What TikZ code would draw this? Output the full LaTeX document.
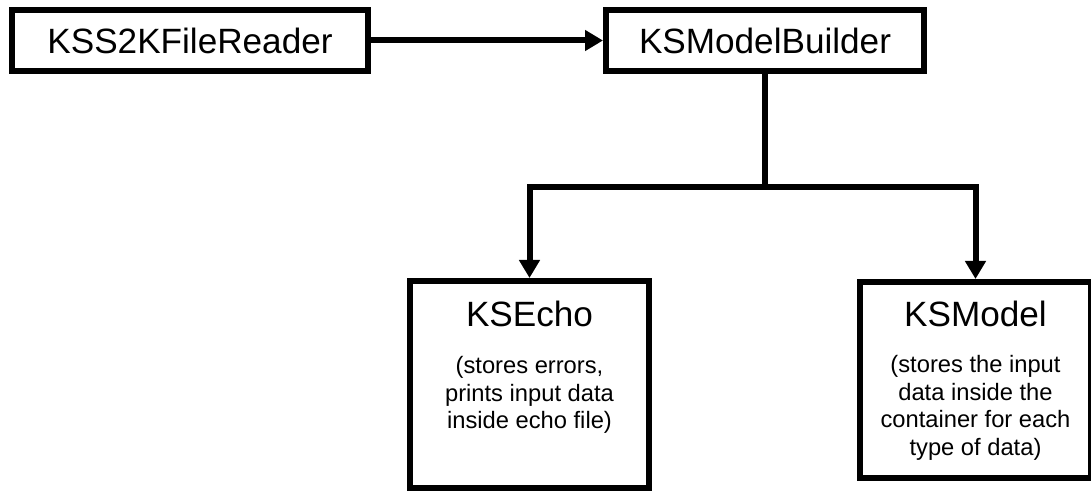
\documentclass[tikz,border=0pt]{standalone}
\usepackage{fontspec}
\setmainfont{Liberation Sans}
\usepackage{tikz}
\usetikzlibrary{arrows.meta}
\tikzset{%
  >={Triangle[width=4mm,length=3.6mm]},
            base/.style = {rectangle, draw=black, line width=1.2mm,
                           text centered, font=\fontsize{20}{24}\selectfont},
  box0/.style = {base, minimum height=1.22cm, inner sep=0pt},
  box1/.style = {base, inner sep=0pt},
  link/.style = {line width=1.2mm},
}
\newcommand{\subtxt}{\fontsize{13.5}{15.6}\selectfont}

\begin{document}
\begin{tikzpicture}
  \useasboundingbox (0,0) rectangle (21.82,-9.82);

  \node (onReader)  [box0, minimum width=7.12cm] at (3.80,-0.81)  {KSS2KFileReader};
  \node (onBuilder) [box0, minimum width=6.36cm] at (15.30,-0.81) {KSModelBuilder};
  \node (onEcho)    [box1] at (10.59,-7.69) {\parbox[c][4.14cm][t]{4.78cm}{\centering
      \vspace*{0.41cm}{\fontsize{20}{24}\selectfont KSEcho\par}\vspace{11pt}
      {\subtxt (stores errors,\\ prints input data\\ inside echo file)\par}}};
  \node (onModel)   [box1] at (19.51,-7.60) {\parbox[c][3.92cm][t]{4.62cm}{\centering
      \vspace*{0.375cm}{\fontsize{20}{24}\selectfont KSModel\par}\vspace{11pt}
      {\subtxt (stores the input\\ data inside the\\ container for each\\ type of data)\par}}};

  \coordinate (split) at (onBuilder.south |- 0,-3.74);

  \draw[->, link] (onReader) -- (onBuilder);
  \draw[link]     (onBuilder) -- (split);
  \draw[->, link] (split) -| (onEcho.north);
  \draw[->, link] (split) -| (onModel.north);
\end{tikzpicture}
\end{document}
